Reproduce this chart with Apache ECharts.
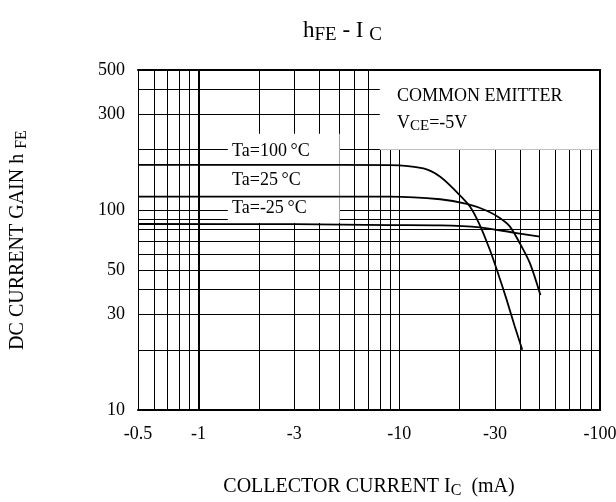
<!DOCTYPE html>
<html><head><meta charset="utf-8">
<script src="https://cdn.jsdelivr.net/npm/echarts@6/dist/echarts.min.js"></script>
<style>html,body{margin:0;padding:0;background:#fff}#c{width:616px;height:502px}</style>
</head><body><div id="c"></div>
<script>
// Tick labels (magnitudes; shown with a leading minus on x)
const xTickLabels = [0.5, 1, 3, 10, 30, 100];
const yTickLabels = [10, 30, 50, 100, 300, 500];
// Grid line positions
const xGridValues = [0.5, 0.6, 0.7, 0.8, 0.9, 1, 2, 3, 4, 5, 6, 7, 8, 9, 10, 20, 30, 40, 50, 60, 70, 80, 90, 100];
const yGridValues = [10, 20, 30, 40, 50, 60, 70, 80, 90, 100, 200, 300, 400, 500];
// Series (collector current magnitude in mA, hFE)
const ta100Ic  = [0.5, 3, 9.0, 13.2, 16.0, 19.3, 22.5, 25.2, 28.3, 31.1, 34.3, 37.7, 41.0];
const ta100Hfe = [168, 168, 167.5, 161, 146.5, 123, 104, 84, 63, 48, 35.5, 26, 20];
const ta25Ic   = [0.5, 3, 9.0, 16.0, 21.7, 27.3, 31.7, 35.6, 39.9, 44.8, 50.5];
const ta25Hfe  = [116.5, 116.5, 116.5, 113, 107, 99, 91, 82.5, 68, 54, 37.5];
const taM25Ic  = [0.5, 3, 9.0, 16.0, 25.2, 37.0, 50.2];
const taM25Hfe = [85, 84.8, 84, 83.7, 81.8, 77, 73.5];
const seriesNames = ['Ta=100\u2009°C', 'Ta=25\u2009°C', 'Ta=-25\u2009°C'];

const L = Math.log10;
const FONT = 'Liberation Serif';
const pts = (xs, ys) => xs.map((x, i) => [L(x), L(ys[i])]);
const fmtX = v => '-' + (Math.round(Math.pow(10, v) * 10) / 10);
const fmtY = v => String(Math.round(Math.pow(10, v)));

const xMin = L(0.5), xMax = L(100), yMin = L(10), yMax = L(500);
const nameRich = {
  n: { fontSize: 20, fontFamily: FONT, color: '#000', lineHeight: 24, fontWeight: 'normal' },
  s: { fontSize: 16, fontFamily: FONT, color: '#000', lineHeight: 16, verticalAlign: 'bottom', fontWeight: 'normal' }
};

const chart = echarts.init(document.getElementById('c'), null, { renderer: 'canvas' });
const lineSeries = (name, data) => ({
  name, type: 'line', data, showSymbol: false, smooth: 0.3, z: 3,
  lineStyle: { color: '#000', width: 1.8 }, silent: true
});

chart.setOption({
  animation: false,
  backgroundColor: '#fff',
  title: {
    text: '{n|h}{s|FE}{n| - I }{s|C}',
    left: 298, top: 12,
    textStyle: {
      fontWeight: 'normal',
      rich: {
        n: { fontSize: 23, fontFamily: FONT, color: '#000', lineHeight: 28, fontWeight: 'normal' },
        s: { fontSize: 19, fontFamily: FONT, color: '#000', lineHeight: 19, verticalAlign: 'bottom', fontWeight: 'normal' }
      }
    }
  },
  grid: { left: 138, right: 16, top: 70, bottom: 92, outerBoundsMode: 'none' },
  xAxis: [{
    type: 'value', min: xMin, max: xMax,
    name: '{n|COLLECTOR CURRENT I}{s|C}{n|  (mA)}',
    nameLocation: 'middle', nameGap: 65,
    nameTextStyle: { rich: nameRich },
    axisLine: { show: true, lineStyle: { color: '#000', width: 2 } },
    axisTick: { show: false, customValues: xGridValues.map(L) },
    axisLabel: { customValues: xTickLabels.map(L), formatter: fmtX, fontFamily: FONT, fontSize: 18, color: '#000', margin: 15 },
    splitLine: { show: true, lineStyle: { color: '#000', width: 1 } }
  }, {
    type: 'value', min: xMin, max: xMax, position: 'top', z: 5,
    axisLine: { show: true, onZero: false, lineStyle: { color: '#000', width: 2 } },
    axisTick: { show: false }, axisLabel: { show: false }, splitLine: { show: false }
  }],
  yAxis: [{
    type: 'value', min: yMin, max: yMax,
    name: '{n|DC CURRENT GAIN h }{s|FE}',
    nameLocation: 'middle', nameGap: 108, nameRotate: 90,
    nameTextStyle: { rich: nameRich },
    axisLine: { show: true, lineStyle: { color: '#000', width: 2 } },
    axisTick: { show: false, customValues: yGridValues.map(L) },
    axisLabel: { customValues: yTickLabels.map(L), formatter: fmtY, fontFamily: FONT, fontSize: 18, color: '#000', margin: 13 },
    splitLine: { show: true, lineStyle: { color: '#000', width: 1 } }
  }, {
    type: 'value', min: yMin, max: yMax, position: 'right', z: 5,
    axisLine: { show: true, onZero: false, lineStyle: { color: '#000', width: 2 } },
    axisTick: { show: false }, axisLabel: { show: false }, splitLine: { show: false }
  }],
  series: [
    {
      type: 'line', data: [], z: 1, silent: true,
      markArea: {
        silent: true,
        itemStyle: { color: '#fff', opacity: 1, borderWidth: 0 },
        label: { show: false },
        data: [
          [{ coord: [L(8), L(200)] }, { coord: [L(100), L(500)] }],
          [{ coord: [L(1.4), L(86)] }, { coord: [L(5.05), L(240)] }]
        ]
      }
    },
    lineSeries(seriesNames[0], pts(ta100Ic, ta100Hfe)),
    lineSeries(seriesNames[1], pts(ta25Ic, ta25Hfe)),
    lineSeries(seriesNames[2], pts(taM25Ic, taM25Hfe))
  ],
  graphic: [
    { type: 'text', z: 10, left: 232, top: 142, style: { text: seriesNames[0], font: '18px "Liberation Serif"', fill: '#000' } },
    { type: 'text', z: 10, left: 232, top: 171, style: { text: seriesNames[1], font: '18px "Liberation Serif"', fill: '#000' } },
    { type: 'text', z: 10, left: 232, top: 199, style: { text: seriesNames[2], font: '18px "Liberation Serif"', fill: '#000' } },
    { type: 'text', z: 10, left: 397, top: 87, style: { text: 'COMMON EMITTER', font: '18px "Liberation Serif"', fill: '#000' } },
    { type: 'text', z: 10, left: 397, top: 114, style: { text: '{n|V}{s|CE}{n|=-5V}', rich: {
      n: { fontSize: 18, fontFamily: FONT, fill: '#000', lineHeight: 22 },
      s: { fontSize: 15, fontFamily: FONT, fill: '#000', lineHeight: 15, verticalAlign: 'bottom' } } } }
  ]
});
</script>
</body></html>
